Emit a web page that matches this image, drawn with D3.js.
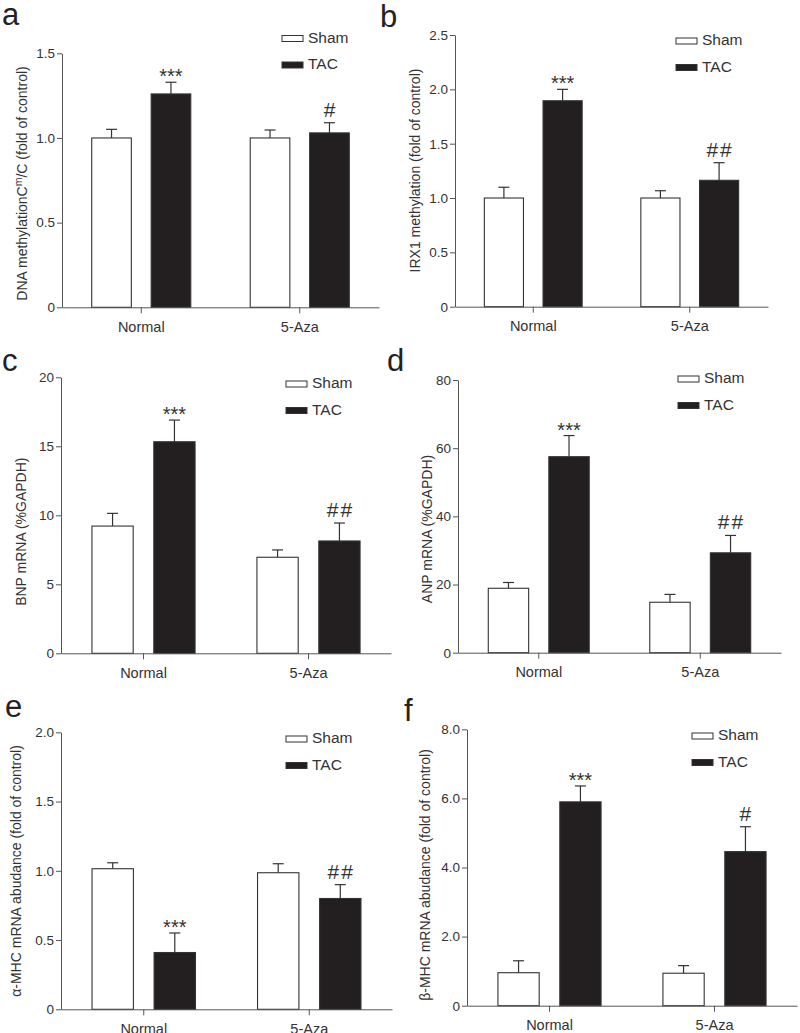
<!DOCTYPE html>
<html>
<head>
<meta charset="utf-8">
<title>Methylation and hypertrophy markers</title>
<script src="https://d3js.org/d3.v7.min.js"></script>
<style>
  body { margin: 0; background: #fff; }
  svg { display: block; font-family: "Liberation Sans", Arial, sans-serif; }
  .domain, .tick line { stroke: #555; }
</style>
</head>
<body>
<svg id="chart" width="800" height="1033"></svg>
<script>
// data
const categories = ['Normal', '5-Aza'];
const groups = ['Sham', 'TAC'];
const panelLetters = ['a', 'b', 'c', 'd', 'e', 'f'];
const yLabels = [
  ['DNA methylationC', 'm', '/C (fold of control)'],
  ['IRX1 methylation (fold of control)'],
  ['BNP mRNA (%GAPDH)'],
  ['ANP mRNA (%GAPDH)'],
  ['\u03b1-MHC mRNA abudance (fold of control)'],
  ['\u03b2-MHC mRNA abudance (fold of control)']
];
const shamMeans = [[1.0, 1.0], [1.0, 1.0], [9.22, 6.96], [18.9, 14.8], [1.015, 0.986], [0.955, 0.94]];
const shamErrors = [[0.051, 0.047], [0.099, 0.067], [0.92, 0.53], [1.7, 2.3], [0.043, 0.065], [0.345, 0.22]];
const tacMeans = [[1.26, 1.03], [1.895, 1.163], [15.33, 8.14], [57.5, 29.3], [0.41, 0.80], [5.90, 4.46]];
const tacErrors = [[0.069, 0.06], [0.105, 0.162], [1.57, 1.30], [6.2, 5.1], [0.141, 0.10], [0.46, 0.72]];
const yTicks = [
  [0, 0.5, 1, 1.5],
  [0, 0.5, 1, 1.5, 2, 2.5],
  [0, 5, 10, 15, 20],
  [0, 20, 40, 60, 80],
  [0, 0.5, 1, 1.5, 2],
  [0, 2, 4, 6, 8]
];
const yTickLabels = [
  ['0', '0.5', '1.0', '1.5'],
  ['0', '0.5', '1.0', '1.5', '2.0', '2.5'],
  ['0', '5', '10', '15', '20'],
  ['0', '20', '40', '60', '80'],
  ['0', '0.5', '1.0', '1.5', '2.0'],
  ['0', '2.0', '4.0', '6.0', '8.0']
];
const normalMarks = ['***', '***', '***', '***', '***', '***'];
const azaMarks = ['#', '##', '##', '##', '##', '#'];

// where each panel sits on the page
const layout = [
  { x: [62, 379], y: [307.3, 53.3], letter: [2, 25], legend: [282, 42.5], ylab: [22, 183.5] },
  { x: [455, 768], y: [306.7, 35], letter: [380, 27], legend: [676, 45], ylab: [415, 170.5] },
  { x: [61, 391], y: [653.3, 377.3], letter: [2, 371], legend: [286, 388], ylab: [21.5, 531.7] },
  { x: [458, 781], y: [652.7, 380], letter: [387, 371], legend: [678, 383], ylab: [426.7, 529] },
  { x: [61, 392], y: [1009.3, 732.3], letter: [5, 717], legend: [286, 743], ylab: [16, 871] },
  { x: [467, 797], y: [1005.7, 729.3], letter: [404, 721], legend: [692, 740], ylab: [425.5, 875] }
];

const svg = d3.select('#chart');
const barFill = { Sham: '#fff', TAC: '#231f20' };

function drawPanel(i) {
  const L = layout[i];
  const g = svg.append('g');

  const x0 = d3.scaleBand().domain(categories).range(L.x)
    .paddingInner(0.375).paddingOuter(0.1875);
  const x1 = d3.scaleBand().domain(groups).range([0, x0.bandwidth()]).paddingInner(1 / 3);
  const ticks = yTicks[i];
  const y = d3.scaleLinear().domain([0, ticks[ticks.length - 1]]).range(L.y);

  const rows = [];
  categories.forEach((c, ci) => {
    rows.push({ cat: c, grp: 'Sham', v: shamMeans[i][ci], e: shamErrors[i][ci] });
    rows.push({ cat: c, grp: 'TAC', v: tacMeans[i][ci], e: tacErrors[i][ci] });
  });

  // error bars (upper half only)
  const cap = 5.5;
  const eb = g.append('g').attr('stroke', '#333').attr('stroke-width', 1.2);
  rows.forEach(d => {
    const cx = x0(d.cat) + x1(d.grp) + x1.bandwidth() / 2;
    eb.append('line').attr('x1', cx).attr('x2', cx).attr('y1', y(d.v)).attr('y2', y(d.v + d.e));
    eb.append('line').attr('x1', cx - cap).attr('x2', cx + cap).attr('y1', y(d.v + d.e)).attr('y2', y(d.v + d.e));
  });

  g.append('g').selectAll('rect').data(rows).join('rect')
    .attr('x', d => x0(d.cat) + x1(d.grp))
    .attr('y', d => y(d.v))
    .attr('width', x1.bandwidth())
    .attr('height', d => y(0) - y(d.v))
    .attr('fill', d => barFill[d.grp])
    .attr('stroke', '#333')
    .attr('stroke-width', 1.1);

  // axes
  const yAxis = d3.axisLeft(y).tickValues(ticks).tickSize(5).tickSizeOuter(0).tickPadding(2)
    .tickFormat((d, k) => yTickLabels[i][k]);
  const ya = g.append('g').attr('transform', `translate(${L.x[0]},0)`).call(yAxis);
  ya.selectAll('.tick text').style('font-size', '13.5px').attr('fill', '#333');

  const xAxis = d3.axisBottom(x0).tickSize(6).tickSizeOuter(0).tickPadding(5);
  const xg = g.append('g').attr('transform', `translate(0,${y(0)})`).call(xAxis);
  xg.selectAll('.tick text').style('font-size', '14.5px').attr('fill', '#333').attr('dy', '0.92em');

  // significance marks
  const tac = rows.filter(d => d.grp === 'TAC');
  tac.forEach((d, k) => {
    const cx = x0(d.cat) + x1('TAC') + x1.bandwidth() / 2;
    const top = y(d.v + d.e);
    if (k === 0) {
      g.append('text').attr('x', cx).attr('y', top + 1).attr('text-anchor', 'middle')
        .attr('fill', '#333').style('font-size', '20px').text(normalMarks[i]);
    } else {
      g.append('text').attr('x', cx + 1).attr('y', top - 6).attr('text-anchor', 'middle')
        .attr('fill', '#333').style('font-size', '21px').style('letter-spacing', '2px').text(azaMarks[i]);
    }
  });

  // legend
  groups.forEach((grp, k) => {
    const by = L.legend[1] + k * 26.5;
    g.append('rect').attr('x', L.legend[0]).attr('y', by - 7).attr('width', 21).attr('height', 6)
      .attr('fill', barFill[grp]).attr('stroke', '#333').attr('stroke-width', 1);
    g.append('text').attr('x', L.legend[0] + 26).attr('y', by)
      .attr('fill', '#333').style('font-size', '15.5px').text(grp);
  });

  // y label
  const yl = g.append('text')
    .attr('transform', `translate(${L.ylab[0]},${L.ylab[1]}) rotate(-90)`)
    .attr('text-anchor', 'middle').attr('dy', '0.35em')
    .attr('fill', '#333').style('font-size', '14px');
  const parts = yLabels[i];
  if (parts.length === 3) {
    yl.append('tspan').text(parts[0]);
    yl.append('tspan').attr('dy', -5).style('font-size', '10.5px').text(parts[1]);
    yl.append('tspan').attr('dy', 5).text(parts[2]);
  } else {
    yl.text(parts[0]);
  }

  // panel letter
  g.append('text').attr('x', L.letter[0]).attr('y', L.letter[1])
    .attr('fill', '#222').style('font-size', '31px').text(panelLetters[i]);
}

panelLetters.forEach((_, i) => drawPanel(i));
</script>
</body>
</html>
